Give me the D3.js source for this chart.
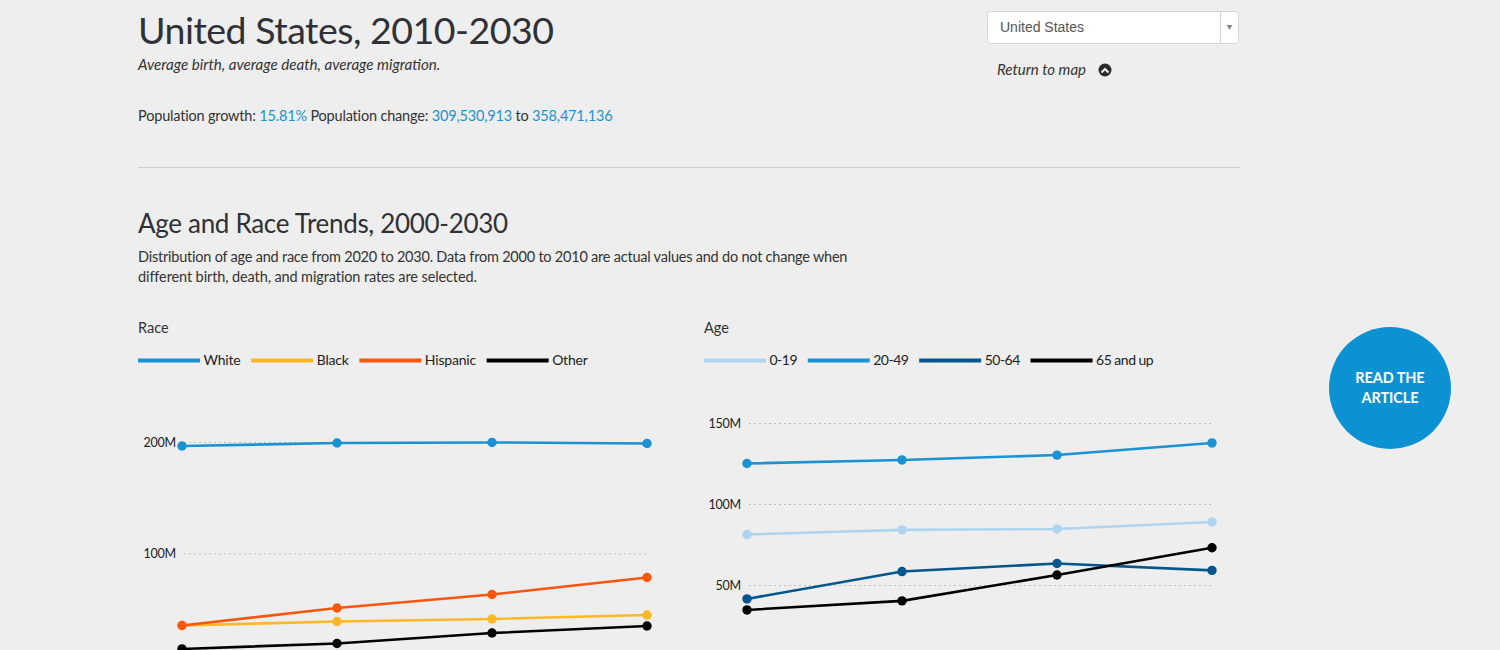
<!DOCTYPE html>
<html>
<head>
<meta charset="utf-8">
<script src="https://cdn.jsdelivr.net/npm/d3@7"></script>
<style>
    html, body { margin: 0; padding: 0; background: #eeeeee; overflow: hidden; }
    svg { display: block; font-family: Lato, "Open Sans", sans-serif; }
    .grid line { stroke: #bcbcbc; stroke-dasharray: 2 3; stroke-width: 1.2; }
    .grid path { display: none; }
    .grid text { font-size: 12.5px; fill: #222; font-family: Lato, sans-serif; letter-spacing: -0.2px; }
</style>
</head>
<body>
<div id="page"></div>
<script>
const years = [2000, 2010, 2020, 2030];

const raceNames = ["White", "Black", "Hispanic", "Other"];
const raceColors = ["#1b93d2", "#fdb827", "#f9560e", "#000000"];
const white = [196.4, 199.1, 199.6, 198.7];
const black = [35.4, 39, 41.3, 44.8];
const hispanic = [35.4, 51.1, 63.2, 78.5];
const other = [14.4, 19.3, 28.7, 35];
const raceTicks = [100, 200];

const ageNames = ["0-19", "20-49", "50-64", "65 and up"];
const ageColors = ["#afd4f0", "#1b93d2", "#03568c", "#000000"];
const age0 = [81.2, 84, 84.6, 88.9];
const age20 = [125, 127.2, 130.2, 137.7];
const age50 = [41.4, 58.3, 63.3, 59];
const age65 = [34.6, 40.2, 56.2, 73];
const ageTicks = [50, 100, 150];

const svg = d3.select("#page").append("svg")
    .attr("width", 1500)
    .attr("height", 650);

function addText(x, y, str, size, opts = {}) {
    return svg.append("text")
        .attr("x", x)
        .attr("y", y)
        .attr("font-size", size)
        .attr("fill", opts.fill || "#333")
        .attr("font-style", opts.italic ? "italic" : null)
        .attr("font-weight", opts.weight || null)
        .attr("text-anchor", opts.anchor || null)
        .attr("letter-spacing", opts.spacing || null)
        .text(str);
}

// header
addText(138, 43.5, "United States, 2010-2030", 37.5, { fill: "#2f3136", spacing: -0.5 });
addText(138, 70, "Average birth, average death, average migration.", 15.15, { italic: true });

const growth = svg.append("text").attr("x", 138).attr("y", 121)
    .attr("font-size", 14.5).attr("fill", "#333").attr("letter-spacing", -0.18);
growth.append("tspan").text("Population growth: ");
growth.append("tspan").attr("fill", "#1b93d2").text("15.81%");
growth.append("tspan").text(" Population change: ");
growth.append("tspan").attr("fill", "#1b93d2").text("309,530,913");
growth.append("tspan").text(" to ");
growth.append("tspan").attr("fill", "#1b93d2").text("358,471,136");

svg.append("line")
    .attr("x1", 138).attr("x2", 1240)
    .attr("y1", 167.5).attr("y2", 167.5)
    .attr("stroke", "#cfcfcf");

// dropdown
svg.append("rect")
    .attr("x", 987.5).attr("y", 11.5)
    .attr("width", 251).attr("height", 32)
    .attr("rx", 3)
    .attr("fill", "#fff")
    .attr("stroke", "#d5d5d5");
svg.append("line")
    .attr("x1", 1220.5).attr("x2", 1220.5)
    .attr("y1", 12).attr("y2", 43)
    .attr("stroke", "#d5d5d5");
svg.append("path")
    .attr("d", "M1226.5 25h6l-3 5z")
    .attr("fill", "#888");
addText(1000, 32, "United States", 14, { fill: "#555" }).attr("font-family", "Liberation Sans, Arial, sans-serif");

addText(997, 75, "Return to map", 15, { italic: true });
svg.append("circle").attr("cx", 1105).attr("cy", 70).attr("r", 6.5).attr("fill", "#2a2a2a");
svg.append("path")
    .attr("d", "M1101.5 72.5l3.5-3.5 3.5 3.5")
    .attr("fill", "none")
    .attr("stroke", "#eee")
    .attr("stroke-width", 2);

// section intro
addText(138, 232.5, "Age and Race Trends, 2000-2030", 26, { fill: "#2f3136", spacing: -0.31 });
addText(138, 262, "Distribution of age and race from 2020 to 2030. Data from 2000 to 2010 are actual values and do not change when", 14.5, { spacing: -0.22 });
addText(138, 282, "different birth, death, and migration rates are selected.", 14.5, { spacing: -0.11 });

function drawChart({ left, title, names, colors, series, ticks, domainMax, yTop, yZero, x0, legendSpacing }) {
    addText(left, 333, title, 14.5);

    // legend, each entry starts after the previous label
    let lx = left;
    names.forEach((name, i) => {
        svg.append("line")
            .attr("x1", lx).attr("x2", lx + 62)
            .attr("y1", 360.5).attr("y2", 360.5)
            .attr("stroke", colors[i])
            .attr("stroke-width", 4);
        const t = addText(lx + 65.5, 365, name, 14, { fill: "#222", spacing: legendSpacing });
        lx += 65.5 + t.node().getComputedTextLength() + 10.7;
    });

    const x = d3.scalePoint().domain(years).range([x0, x0 + 465]);
    const y = d3.scaleLinear().domain([0, domainMax]).range([yZero, yTop]);

    svg.append("g")
        .attr("class", "grid")
        .attr("transform", `translate(${x0 + 2},0)`)
        .call(d3.axisLeft(y)
            .tickValues(ticks)
            .tickSize(-464)
            .tickPadding(8)
            .tickFormat(d => d + "M"));

    const line = d3.line()
        .x((d, i) => x(years[i]))
        .y(d => y(d));

    series.forEach((values, i) => {
        svg.append("path")
            .attr("d", line(values))
            .attr("fill", "none")
            .attr("stroke", colors[i])
            .attr("stroke-width", 2.6);
        svg.append("g")
            .selectAll("circle")
            .data(values)
            .join("circle")
            .attr("cx", (d, j) => x(years[j]))
            .attr("cy", d => y(d))
            .attr("r", 4.7)
            .attr("fill", colors[i]);
    });
}

drawChart({
    left: 138, title: "Race", names: raceNames, colors: raceColors,
    series: [white, black, hispanic, other],
    ticks: raceTicks, domainMax: 200, yTop: 442, yZero: 665, x0: 182, legendSpacing: -0.2
});

drawChart({
    left: 704, title: "Age", names: ageNames, colors: ageColors,
    series: [age0, age20, age50, age65],
    ticks: ageTicks, domainMax: 150, yTop: 423, yZero: 666, x0: 747, legendSpacing: -0.5
});

// article button
svg.append("circle").attr("cx", 1390).attr("cy", 388).attr("r", 61).attr("fill", "#0c92d2");
addText(1390, 383, "READ THE", 14.5, { fill: "#fff", weight: 700, anchor: "middle", spacing: -0.1 });
addText(1390, 403, "ARTICLE", 14.5, { fill: "#fff", weight: 700, anchor: "middle", spacing: -0.1 });
</script>
</body>
</html>
